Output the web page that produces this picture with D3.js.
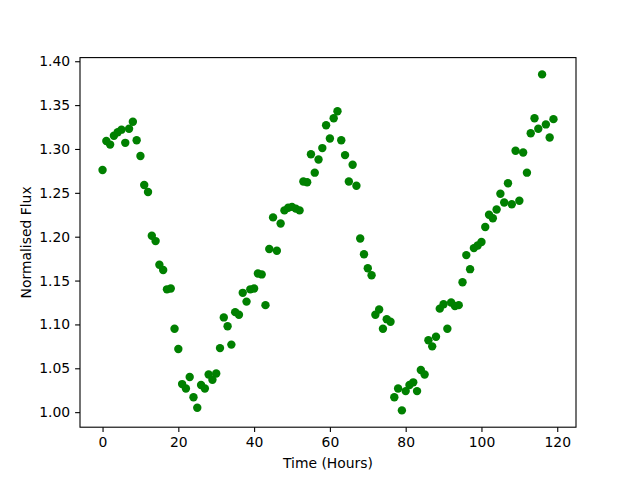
<!DOCTYPE html>
<html>
<head>
<meta charset="utf-8">
<script src="https://cdn.jsdelivr.net/npm/d3@7"></script>
<style>
  body { margin: 0; background: #fff; }
  text { font-family: "DejaVu Sans", sans-serif; fill: #000; }
</style>
</head>
<body>
<div id="chart"></div>
<script>
// hourly flux readings
var hours = d3.range(0, 120);
var flux = [
  1.276, 1.309, 1.305, 1.315, 1.319, 1.322, 1.307, 1.323, 1.331, 1.310,
  1.292, 1.259, 1.251, 1.201, 1.195, 1.168, 1.162, 1.140, 1.141, 1.095,
  1.072, 1.032, 1.027, 1.040, 1.017, 1.005, 1.031, 1.027, 1.043, 1.037,
  1.044, 1.073, 1.108, 1.098, 1.077, 1.114, 1.111, 1.136, 1.126, 1.140,
  1.141, 1.158, 1.157, 1.122, 1.186, 1.222, 1.184, 1.215, 1.230, 1.233,
  1.234, 1.232, 1.230, 1.263, 1.262, 1.294, 1.273, 1.288, 1.301, 1.327,
  1.312, 1.335, 1.343, 1.310, 1.293, 1.263, 1.282, 1.258, 1.198, 1.180,
  1.164, 1.156, 1.111, 1.117, 1.095, 1.106, 1.103, 1.017, 1.027, 1.002,
  1.024, 1.031, 1.034, 1.024, 1.048, 1.043, 1.082, 1.075, 1.086, 1.118,
  1.123, 1.095, 1.125, 1.121, 1.122, 1.148, 1.179, 1.163, 1.187, 1.190,
  1.194, 1.211, 1.225, 1.221, 1.231, 1.249, 1.239, 1.261, 1.237, 1.298,
  1.241, 1.296, 1.273, 1.318, 1.335, 1.323, 1.385, 1.328, 1.313, 1.334
];
var xTicks = [0, 20, 40, 60, 80, 100, 120];
var yTicks = [1.00, 1.05, 1.10, 1.15, 1.20, 1.25, 1.30, 1.35, 1.40];

var width = 640, height = 480;
var margin = {top: 57.6, right: 64, bottom: 52.8, left: 80};
var plotW = width - margin.left - margin.right;
var plotH = height - margin.top - margin.bottom;

// matplotlib-style 5% padding around the data
var pad = function(ext) {
  var d = (ext[1] - ext[0]) * 0.05;
  return [ext[0] - d, ext[1] + d];
};

var x = d3.scaleLinear().domain(pad(d3.extent(hours))).range([0, plotW]);
var y = d3.scaleLinear().domain(pad(d3.extent(flux))).range([plotH, 0]);

var svg = d3.select("#chart").append("svg")
  .attr("width", width)
  .attr("height", height);

var plot = svg.append("g")
  .attr("transform", "translate(" + margin.left + "," + margin.top + ")");

// points
plot.append("g").selectAll("circle")
  .data(hours)
  .enter().append("circle")
    .attr("cx", function(d) { return x(d); })
    .attr("cy", function(d, i) { return y(flux[i]); })
    .attr("r", 4.2)
    .style("fill", "#008000");

// axes
var xAxis = d3.axisBottom(x)
  .tickValues(xTicks)
  .tickFormat(d3.format("d"))
  .tickSizeInner(4.9).tickSizeOuter(0).tickPadding(4.9);
var yAxis = d3.axisLeft(y)
  .tickValues(yTicks)
  .tickFormat(d3.format(".2f"))
  .tickSizeInner(4.9).tickSizeOuter(0).tickPadding(4.9);

var gx = plot.append("g")
  .attr("transform", "translate(0," + plotH + ")")
  .call(xAxis);
var gy = plot.append("g").call(yAxis);

[gx, gy].forEach(function(g) {
  g.select(".domain").remove();
  g.selectAll(".tick line").attr("stroke", "#000").attr("stroke-width", 1.1);
  g.selectAll(".tick text")
    .style("font-family", "DejaVu Sans")
    .style("font-size", "13.9px")
    .attr("fill", "#000");
});

// frame
plot.append("rect")
  .attr("width", plotW)
  .attr("height", plotH)
  .attr("fill", "none")
  .attr("stroke", "#000")
  .attr("stroke-width", 1.1);

// axis labels
svg.append("text")
  .attr("x", margin.left + plotW / 2)
  .attr("y", 468)
  .attr("text-anchor", "middle")
  .style("font-size", "13.9px")
  .text("Time (Hours)");

svg.append("text")
  .attr("transform", "translate(31," + (margin.top + plotH / 2) + ") rotate(-90)")
  .attr("text-anchor", "middle")
  .style("font-size", "13.9px")
  .text("Normalised Flux");
</script>
</body>
</html>
